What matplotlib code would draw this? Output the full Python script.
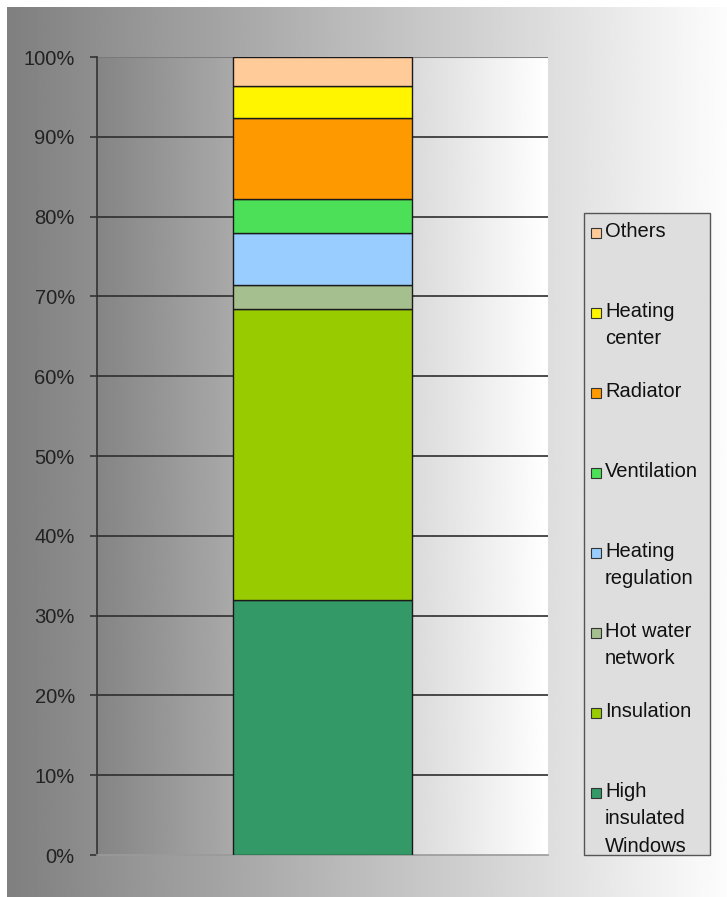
import numpy as np
import matplotlib
matplotlib.use("Agg")
import matplotlib.pyplot as plt
from matplotlib.patches import Rectangle

plt.rcParams["font.family"] = ["Liberation Sans", "DejaVu Sans"]

categories = ["High\ninsulated\nWindows", "Insulation", "Hot water\nnetwork", "Heating\nregulation",
              "Ventilation", "Radiator", "Heating\ncenter", "Others"]
values = [32.0, 36.4, 3.0, 6.5, 4.3, 10.2, 4.0, 3.6]
colors = ["#339966", "#99CC00", "#A6BF8E", "#99CCFF", "#4BE058", "#FF9900", "#FFF500", "#FFCC99"]
yticks = [0, 10, 20, 30, 40, 50, 60, 70, 80, 90, 100]
ytick_labels = [f"{t}%" for t in yticks]

W, H = 727, 897
fig = plt.figure(figsize=(W / 100, H / 100), dpi=100)
fig.patch.set_facecolor("white")

# figure background gradient
bg = fig.add_axes([7 / W, 0 / H, 720 / W, 890 / H], zorder=-10)
grad = np.linspace(0.50, 0.99, 256).reshape(1, -1)
bg.imshow(grad, cmap="gray", vmin=0, vmax=1, aspect="auto", extent=[0, 1, 0, 1])
bg.set_axis_off()

ax = fig.add_axes([97 / W, 42 / H, 451 / W, 798 / H])
ax.set_xlim(-0.5, 0.5)
ax.set_ylim(0, 100)
pgrad = np.linspace(0.52, 1.0, 256).reshape(1, -1)
ax.imshow(pgrad, cmap="gray", vmin=0, vmax=1, aspect="auto", extent=[-0.5, 0.5, 0, 100], zorder=0)

for t in yticks[1:]:
    ax.axhline(t, color="#2e2e2e", lw=1.2, zorder=1)
ax.axhline(100, color="#7a7a7a", lw=1.5, zorder=1)

bottom = 0.0
for v, c in zip(values, colors):
    ax.bar(0.0, v, width=0.397, bottom=bottom, color=c, edgecolor="#1a1a1a", linewidth=1.0, zorder=3)
    bottom += v

for s in ["top", "right"]:
    ax.spines[s].set_visible(False)
ax.spines["left"].set_color("#333333")
ax.spines["left"].set_linewidth(1.2)
ax.spines["bottom"].set_color("#9a9a9a")
ax.spines["bottom"].set_linewidth(1.2)
ax.set_xticks([])
ax.set_yticks(yticks)
ax.set_yticklabels(ytick_labels)
ax.tick_params(axis="y", length=5, width=1.2, color="#333333", labelsize=14.5, labelcolor="#222222", pad=11)

# legend box (drawn manually to match layout)
lx0, lx1, ly0, ly1 = 584, 710, 213, 855
fig.patches.append(Rectangle((lx0 / W, 1 - ly1 / H), (lx1 - lx0) / W, (ly1 - ly0) / H,
                             transform=fig.transFigure, facecolor="#dedede", edgecolor="#555555",
                             linewidth=1.0, zorder=5))
ys = [793, 713, 633, 553, 473, 393, 313, 233]
for lab, c, yy in zip(categories, colors, ys):
    fig.patches.append(Rectangle((591 / W, 1 - (yy + 5) / H), 10 / W, 10 / H,
                                 transform=fig.transFigure, facecolor=c, edgecolor="#333333",
                                 linewidth=0.8, zorder=6))
    fig.text(605 / W, 1 - (yy - 11) / H, lab, fontsize=14.5, color="#111111", va="top", ha="left",
             linespacing=1.55, zorder=7)

fig.savefig("out.png", dpi=100, facecolor="white")
